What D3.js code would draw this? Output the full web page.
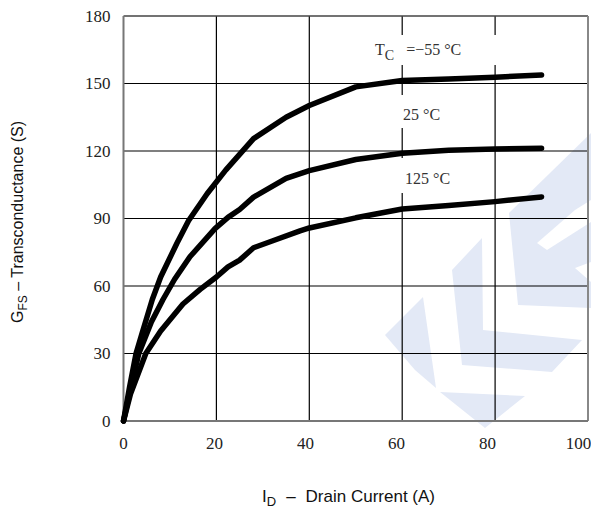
<!DOCTYPE html>
<html><head><meta charset="utf-8">
<script src="https://cdn.jsdelivr.net/npm/d3@7"></script>
<style>body{margin:0;background:#fff}svg{display:block}</style>
</head><body>
<svg id="c" width="591" height="511"></svg>
<script>
const xTicks = [0, 20, 40, 60, 80, 100];
const yTicks = [0, 30, 60, 90, 120, 150, 180];
const seriesNames = ["-55", "25", "125"];
const curveM55 = [[0,0],[1.3,15],[2.7,30],[4,39],[6.2,54],[8,64],[11.5,79],[14,89],[18,101],[22,111.5],[28,125.5],[35,135],[40,140.2],[50,148.5],[60,151.3],[70,152],[80,152.8],[90,153.8]];
const curve25 = [[0,0],[1.5,14],[3.3,30],[6,44],[8.5,54],[11,63],[14.3,73],[19.7,85.5],[22.5,90.5],[25,94],[28,99.5],[35,107.8],[40,111.3],[50,116.2],[60,119],[70,120.3],[80,120.9],[90,121.2]];
const curve125 = [[0,0],[1.5,12],[4.8,30],[8,40],[12.8,52],[16.5,58.5],[20,64],[22.5,68.5],[25,71.5],[28,77],[32,80],[38,84.5],[40,85.8],[50,90.3],[60,94.2],[70,95.8],[80,97.5],[90,99.6]];

const svg = d3.select("#c");
const x = d3.scaleLinear().domain([0,100]).range([123.5,588]);
const xl = d3.scaleLinear().domain([0,100]).range([123,578]);
const y = d3.scaleLinear().domain([0,180]).range([421,16]);

// watermark
const wm = svg.append("g").attr("fill","#e3e9f6");
const polys = [
  [[452,270],[482,238],[483,330],[582,340],[552,372],[462,365]],
  [[385,335],[423,297],[436,388],[415,370]],
  [[440,392],[525,396],[485,428]],
  [[509,213],[591,133],[591,308],[518,305]]
];
wm.selectAll("polygon").data(polys).join("polygon").attr("points", d=>d.join(" "));
svg.append("polygon").attr("fill","#fff").attr("points",[[537,243],[547,250],[591,222],[591,200],[575,210]].join(" "));
svg.append("polygon").attr("fill","#fff").attr("points",[[575,268],[591,282],[591,262]].join(" "));

// grid
const g = svg.append("g");
g.selectAll(".vx").data([20,40,60,80]).join("line")
  .attr("x1",d=>x(d)).attr("x2",d=>x(d)).attr("y1",y(0)).attr("y2",y(180))
  .attr("stroke","#000").attr("stroke-width",1.2);
g.selectAll(".hy").data([30,60,90,120,150]).join("line")
  .attr("x1",x(0)).attr("x2",x(100)).attr("y1",d=>y(d)).attr("y2",d=>y(d))
  .attr("stroke","#000").attr("stroke-width",1.2);

// label backgrounds
svg.append("rect").attr("x",368).attr("y",35).attr("width",135).attr("height",30).attr("fill","#fff");
svg.append("rect").attr("x",396).attr("y",95).attr("width",55).attr("height",33).attr("fill","#fff");
svg.append("rect").attr("x",396).attr("y",158).attr("width",65).attr("height",35).attr("fill","#fff");

// frame
svg.append("line").attr("x1",x(0)).attr("x2",x(100)).attr("y1",y(180)).attr("y2",y(180)).attr("stroke","#444").attr("stroke-width",1.3);
svg.append("line").attr("x1",x(100)).attr("x2",x(100)).attr("y1",y(180)).attr("y2",y(0)).attr("stroke","#888").attr("stroke-width",2);
svg.append("line").attr("x1",x(0)).attr("x2",x(100)).attr("y1",y(0)).attr("y2",y(0)).attr("stroke","#777").attr("stroke-width",2);
svg.append("line").attr("x1",x(0)).attr("x2",x(0)).attr("y1",y(180)).attr("y2",y(0)).attr("stroke","#777").attr("stroke-width",2);

// curves
const line = d3.line().x(d=>x(d[0])).y(d=>y(d[1]));
svg.selectAll(".crv").data([curveM55, curve25, curve125]).join("path")
  .attr("d", line).attr("fill","none").attr("stroke","#000")
  .attr("stroke-width",5.5).attr("stroke-linecap","round").attr("stroke-linejoin","round");

// axes
const serif = "'Liberation Serif','DejaVu Serif',serif";
const ax = svg.append("g").attr("transform",`translate(0,${y(0)})`)
  .call(d3.axisBottom(xl).tickValues(xTicks).tickSize(0).tickPadding(16).tickFormat(d3.format("d")));
ax.select(".domain").remove();
ax.selectAll("text").attr("font-family",serif).attr("font-size",17).attr("fill","#222");
const ay = svg.append("g").attr("transform",`translate(${x(0)},0)`)
  .call(d3.axisLeft(y).tickValues(yTicks).tickSize(0).tickPadding(13).tickFormat(d3.format("d")));
ay.select(".domain").remove();
ay.selectAll("text").attr("font-family",serif).attr("font-size",17).attr("fill","#222");

// annotations
const ann = svg.append("g").attr("font-family",serif).attr("font-size",16).attr("fill","#333");
const t1 = ann.append("text").attr("x",375).attr("y",55);
t1.append("tspan").text("T");
t1.append("tspan").attr("dy",5).attr("font-size",14).text("C");
t1.append("tspan").attr("dy",-5).attr("dx",12).text("=\u221255 \u00b0C");
ann.append("text").attr("x",403).attr("y",120).text("25 \u00b0C");
ann.append("text").attr("x",405).attr("y",184).text("125 \u00b0C");

// axis titles
const sans = "'Liberation Sans',Arial,sans-serif";
const yt = svg.append("text").attr("transform","translate(23,222) rotate(-90)")
  .attr("text-anchor","middle").attr("font-family",sans).attr("font-size",16).attr("fill","#111");
yt.append("tspan").text("G");
yt.append("tspan").attr("dy",4).attr("font-size",12).text("FS");
yt.append("tspan").attr("dy",-4).text(" \u2013 Transconductance (S)");
const xt = svg.append("text").attr("x",262).attr("y",502)
  .attr("font-family",sans).attr("font-size",17).attr("fill","#111");
xt.append("tspan").text("I");
xt.append("tspan").attr("dy",4).attr("font-size",13).text("D");
xt.append("tspan").attr("dy",-4).attr("dx",10).text("\u2013");
xt.append("tspan").attr("dx",10).text("Drain Current (A)");
</script>
</body></html>
